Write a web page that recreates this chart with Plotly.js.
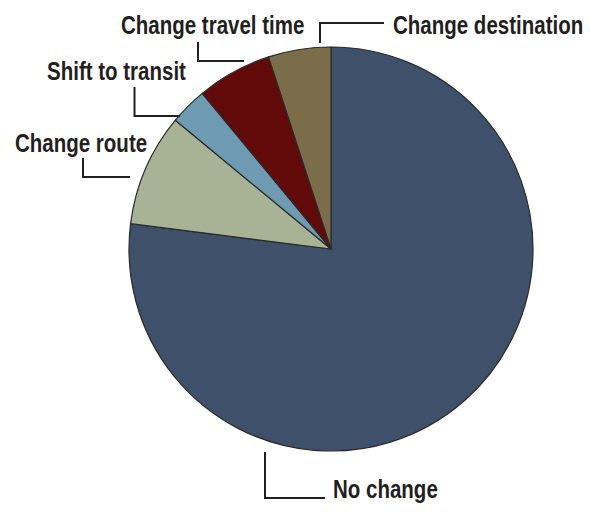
<!DOCTYPE html>
<html>
<head>
<meta charset="utf-8">
<script src="https://cdn.plot.ly/plotly-3.0.1.min.js"></script>
<style>html,body{margin:0;padding:0;background:#fff;}#chart{width:590px;height:514px;}</style>
</head>
<body>
<div id="chart"></div>
<script>
// Data (percent of respondents)
const categories = ["No change", "Change route", "Shift to transit", "Change travel time", "Change destination"];
const shares = [77, 9, 3, 6, 5];
const sliceColors = ["#3F506B", "#A8B396", "#6E9BB1", "#620A0A", "#7B6D49"];

const W = 590, H = 514;
const px = v => v / W;
const py = v => 1 - v / H;

// label placement (pixel positions of label left edge / vertical middle)
const labelPos = [
  {x: 331, y: 489},   // No change
  {x: 13,  y: 142.5}, // Change route
  {x: 45,  y: 71},    // Shift to transit
  {x: 119, y: 25},    // Change travel time
  {x: 391, y: 25}     // Change destination
];
// leader lines as pixel polylines
const leaders = [
  [[265, 452], [265, 498], [325, 498]],
  [[83, 158], [83, 177], [130, 177]],
  [[134.5, 87], [134.5, 116], [180, 116]],
  [[198, 42], [198, 61], [244, 61]],
  [[320, 43], [320, 23], [384, 23]]
];

const labelFont = {family: "Liberation Sans, Arial, sans-serif", size: 25, color: "#231F20", weight: "bold"};
const NARROW = 0.82;

const annotations = categories.map((c, i) => ({
  text: c,
  xref: "paper", yref: "paper",
  x: px(labelPos[i].x), y: py(labelPos[i].y),
  xanchor: "left", yanchor: "middle",
  showarrow: false,
  font: labelFont
}));

const shapes = leaders.map(pts => ({
  type: "path",
  xref: "paper", yref: "paper",
  path: pts.map((p, k) => (k ? "L" : "M") + px(p[0]) + "," + py(p[1])).join(" "),
  line: {color: "#231F20", width: 2}
}));

const trace = {
  type: "pie",
  labels: categories,
  values: shares,
  sort: false,
  direction: "clockwise",
  rotation: 0,
  textinfo: "none",
  hoverinfo: "label+percent",
  marker: {colors: sliceColors, line: {color: "#2A2A2A", width: 1.2}},
  domain: {x: [129 / W, 533 / W], y: [1 - 451 / H, 1 - 47 / H]},
  showlegend: false
};

Plotly.newPlot("chart", [trace], {
  width: W, height: H,
  margin: {l: 0, r: 0, t: 0, b: 0},
  paper_bgcolor: "#ffffff",
  showlegend: false,
  annotations: annotations,
  shapes: shapes
}, {displayModeBar: false, staticPlot: true}).then(() => {
  // condense label text horizontally (narrow bold face look), anchored at its left edge
  document.querySelectorAll("#chart .annotation-text").forEach(t => {
    const bb = t.getBBox();
    const x0 = bb.x;
    const prev = t.getAttribute("transform") || "";
    t.setAttribute("transform", prev + " translate(" + x0 + ",0) scale(" + NARROW + ",1) translate(" + (-x0) + ",0)");
  });
});
</script>
</body>
</html>
